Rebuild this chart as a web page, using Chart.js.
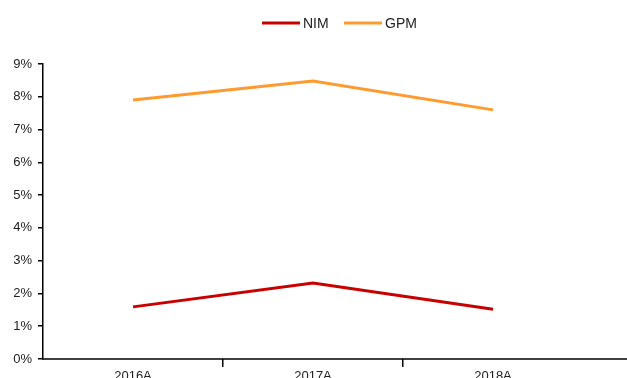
<!DOCTYPE html>
<html>
<head>
<meta charset="utf-8">
<script src="https://cdn.jsdelivr.net/npm/chart.js@4"></script>
<style>
  html, body { margin: 0; padding: 0; background: #fff; overflow: hidden; }
  #wrap { position: absolute; left: 0; top: 0; width: 627px; height: 387px; }
</style>
</head>
<body>
<div id="wrap"><canvas id="chart"></canvas></div>
<script>
const years = ['2016A', '2017A', '2018A'];
const nim = [1.59, 2.32, 1.52];
const gpm = [7.90, 8.48, 7.60];
const yTicks = [0, 1, 2, 3, 4, 5, 6, 7, 8, 9];

const font = "'Liberation Sans', Arial, sans-serif";

// legend drawn by hand, and the x axis line runs on to the right edge
const extras = {
    id: 'extras',
    afterDraw(chart) {
        const ctx = chart.ctx;
        const area = chart.chartArea;
        const yAxis = chart.scales.y;
        ctx.save();
        ctx.strokeStyle = '#000';
        ctx.lineWidth = 1.5;
        ctx.beginPath();
        ctx.moveTo(yAxis.right - 1, area.bottom);
        ctx.lineTo(chart.width, area.bottom);
        ctx.stroke();

        const items = [[262, chart.data.datasets[0]], [344, chart.data.datasets[1]]];
        ctx.font = '14px ' + font;
        ctx.textBaseline = 'middle';
        ctx.fillStyle = '#222';
        items.forEach(([x, ds]) => {
            ctx.strokeStyle = ds.borderColor;
            ctx.lineWidth = 3;
            ctx.beginPath();
            ctx.moveTo(x, 23);
            ctx.lineTo(x + 38, 23);
            ctx.stroke();
            ctx.fillText(ds.label, x + 41, 24);
        });
        ctx.restore();
    }
};

new Chart(document.getElementById('chart'), {
    type: 'line',
    data: {
        labels: years,
        datasets: [
            { label: 'NIM', data: nim, borderColor: '#C80000', borderWidth: 3, pointRadius: 0, tension: 0 },
            { label: 'GPM', data: gpm, borderColor: '#FF9A2E', borderWidth: 3, pointRadius: 0, tension: 0 }
        ]
    },
    options: {
        responsive: true,
        maintainAspectRatio: false,
        animation: false,
        layout: { padding: { top: 64, right: 44, left: 0, bottom: 0 } },
        plugins: { legend: { display: false }, tooltip: { enabled: false } },
        scales: {
            x: {
                offset: true,
                grid: {
                    offset: true,
                    drawOnChartArea: false,
                    tickLength: 8,
                    lineWidth: 1.5,
                    color: ctx => (ctx.index === 1 || ctx.index === 2) ? '#000' : 'rgba(0,0,0,0)'
                },
                border: { display: false },
                ticks: { color: '#222', font: { family: font, size: 13 }, padding: 2, maxRotation: 0 },
                afterFit: scale => { scale.height = 28; }
            },
            y: {
                min: 0,
                max: 9,
                afterBuildTicks: scale => { scale.ticks = yTicks.map(v => ({ value: v })); },
                grid: { drawOnChartArea: false, tickLength: 5, lineWidth: 1.5, color: '#000' },
                border: { display: true, color: '#000', width: 1.5 },
                ticks: { color: '#222', font: { family: font, size: 13 }, padding: 6, callback: v => v + '%' },
                afterFit: scale => { scale.width = 43; }
            }
        }
    },
    plugins: [extras]
});
</script>
</body>
</html>
